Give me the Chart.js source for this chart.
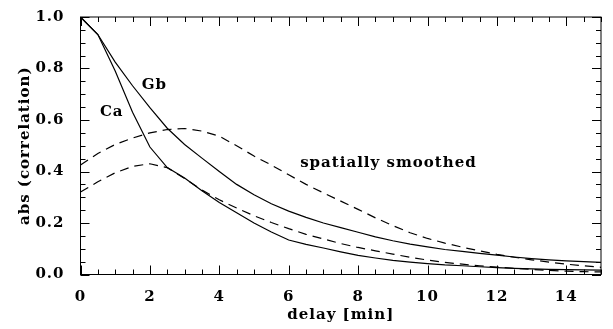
<!DOCTYPE html>
<html lang="en">

<head>
    <meta charset="UTF-8">
    <title>abs (correlation) vs delay</title>
    <style>
        html, body { margin: 0; padding: 0; background: #fff; }
        #grafico { display: block; }
    </style>
</head>

<body>
    <canvas id="grafico" width="613" height="329"></canvas>

    <script src="https://cdn.jsdelivr.net/npm/chart.js"></script>
    <script>
        // delay [min], one sample every half minute
        const delay = [0, 0.5, 1, 1.5, 2, 2.5, 3, 3.5, 4, 4.5, 5, 5.5, 6, 6.5, 7, 7.5,
            8, 8.5, 9, 9.5, 10, 10.5, 11, 11.5, 12, 12.5, 13, 13.5, 14, 14.5, 15]

        // abs(correlation)
        const corrCa = [1.0, 0.932, 0.79, 0.63, 0.495, 0.415, 0.375, 0.325, 0.28, 0.24, 0.2, 0.165, 0.134,
            0.117, 0.103, 0.088, 0.074, 0.064, 0.055, 0.048, 0.042, 0.037, 0.034, 0.03, 0.027, 0.024,
            0.022, 0.02, 0.019, 0.018, 0.017]
        const corrGb = [1.0, 0.932, 0.825, 0.733, 0.648, 0.568, 0.505, 0.452, 0.40, 0.35, 0.31, 0.275, 0.246,
            0.222, 0.2, 0.182, 0.164, 0.146, 0.131, 0.118, 0.107, 0.097, 0.09, 0.082, 0.075, 0.068,
            0.062, 0.057, 0.053, 0.05, 0.047]
        const corrCaSuave = [0.32, 0.36, 0.395, 0.42, 0.43, 0.415, 0.373, 0.328, 0.29, 0.258, 0.228, 0.202,
            0.178, 0.156, 0.138, 0.12, 0.105, 0.092, 0.079, 0.067, 0.056, 0.047, 0.04, 0.034, 0.029,
            0.024, 0.02, 0.016, 0.013, 0.011, 0.01]
        const corrGbSuave = [0.425, 0.47, 0.505, 0.53, 0.55, 0.563, 0.567, 0.557, 0.537, 0.5, 0.46, 0.425,
            0.387, 0.35, 0.317, 0.285, 0.253, 0.22, 0.19, 0.162, 0.14, 0.122, 0.106, 0.092, 0.078,
            0.067, 0.057, 0.048, 0.04, 0.034, 0.028]

        const xTicks = [0, 2, 4, 6, 8, 10, 12, 14]
        const yTicks = [0.0, 0.2, 0.4, 0.6, 0.8, 1.0]

        // text written inside the plot: [text, delay, correlation, align]
        const etiquetas = [
            ["Gb", 2.13, 0.735, "center"],
            ["Ca", 0.9, 0.632, "center"],
            ["spatially smoothed", 6.33, 0.432, "left"]
        ]

        const fuente = "'DejaVu Serif', serif"

        function serie(valores, guiones) {
            return {
                data: delay.map((d, i) => ({ x: d, y: valores[i] })),
                borderColor: "#000",
                borderWidth: 1.2,
                borderDash: guiones,
                pointRadius: 0,
                tension: 0,
                fill: false
            }
        }

        // frame with inward ticks on all four sides, IDL style
        const marcoPlugin = {
            id: "marco",
            beforeDraw(chart) {
                const ctx = chart.ctx
                ctx.letterSpacing = "1px"
                ctx.save()
                ctx.fillStyle = "#fff"
                ctx.fillRect(0, 0, chart.width, chart.height)
                ctx.restore()
            },
            afterDraw(chart) {
                const { ctx, chartArea: a, scales: { x, y } } = chart
                ctx.save()
                ctx.strokeStyle = "#000"
                ctx.lineWidth = 1
                ctx.strokeRect(a.left, a.top, a.right - a.left, a.bottom - a.top)
                ctx.beginPath()
                for (let i = 0; i <= 30; i++) {
                    let px = Math.round(x.getPixelForValue(i * 0.5)) + 0.5
                    let largo = i % 4 == 0 ? 9 : 5
                    ctx.moveTo(px, a.bottom); ctx.lineTo(px, a.bottom - largo)
                    ctx.moveTo(px, a.top); ctx.lineTo(px, a.top + largo)
                }
                for (let i = 0; i <= 20; i++) {
                    let py = Math.round(y.getPixelForValue(i * 0.05)) + 0.5
                    let largo = i % 4 == 0 ? 9 : 5
                    ctx.moveTo(a.left, py); ctx.lineTo(a.left + largo, py)
                    ctx.moveTo(a.right, py); ctx.lineTo(a.right - largo, py)
                }
                ctx.stroke()

                ctx.fillStyle = "#000"
                ctx.font = "bold 15px " + fuente
                ctx.textBaseline = "middle"
                etiquetas.forEach(([texto, dx, dy, alineado]) => {
                    ctx.textAlign = alineado
                    ctx.fillText(texto, x.getPixelForValue(dx), y.getPixelForValue(dy))
                })
                ctx.restore()
            }
        }

        new Chart(document.querySelector("#grafico"), {
            type: "line",
            data: {
                datasets: [
                    serie(corrCa, []),
                    serie(corrGb, []),
                    serie(corrCaSuave, [9, 6]),
                    serie(corrGbSuave, [9, 6])
                ]
            },
            options: {
                responsive: false,
                animation: false,
                devicePixelRatio: 1,
                layout: { padding: { top: 8, right: 12, bottom: 0, left: 0 } },
                plugins: { legend: { display: false }, tooltip: { enabled: false } },
                scales: {
                    x: {
                        type: "linear",
                        min: 0,
                        max: 15,
                        afterBuildTicks: s => { s.ticks = xTicks.map(v => ({ value: v })) },
                        afterFit: s => { s.height = 54.5 },
                        grid: { display: false },
                        border: { display: false },
                        ticks: {
                            color: "#000",
                            padding: 6,
                            maxRotation: 0,
                            font: { family: fuente, size: 15, weight: "bold" },
                            callback: v => v
                        },
                        title: {
                            display: true,
                            text: "delay [min]",
                            color: "#000",
                            padding: { top: 0, bottom: 5 },
                            font: { family: fuente, size: 15, weight: "bold" }
                        }
                    },
                    y: {
                        min: 0,
                        max: 1,
                        afterBuildTicks: s => { s.ticks = yTicks.map(v => ({ value: v })) },
                        afterFit: s => { s.width = 80.5 },
                        grid: { display: false },
                        border: { display: false },
                        ticks: {
                            color: "#000",
                            padding: 8,
                            font: { family: fuente, size: 15, weight: "bold" },
                            callback: v => v.toFixed(1)
                        },
                        title: {
                            display: true,
                            text: "abs (correlation)",
                            color: "#000",
                            padding: { top: 16, bottom: 0 },
                            font: { family: fuente, size: 15, weight: "bold" }
                        }
                    }
                }
            },
            plugins: [marcoPlugin]
        })
    </script>
</body>

</html>
